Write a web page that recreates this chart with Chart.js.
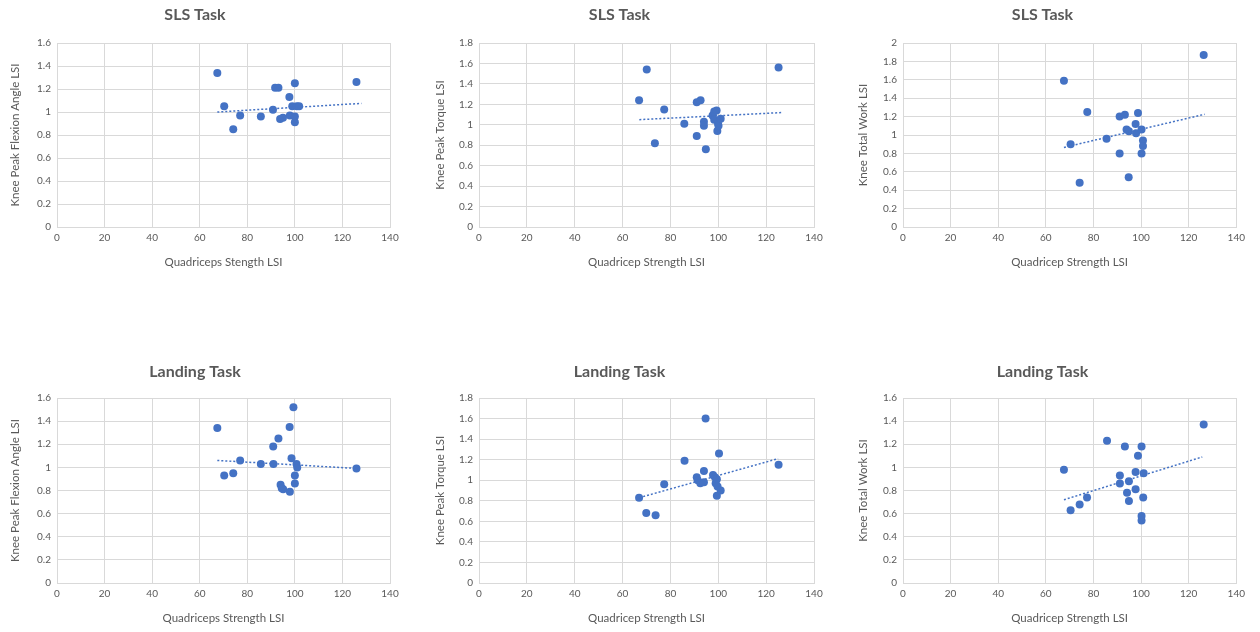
<!DOCTYPE html>
<html>
<head>
<meta charset="utf-8">
<script src="https://cdn.jsdelivr.net/npm/chart.js@4/dist/chart.umd.min.js"></script>
<style>
    body { margin: 0; background: #fff; width: 1260px; height: 632px; overflow: hidden; position: relative; }
    canvas { position: absolute; }
</style>
</head>
<body>
<canvas id="c1" width="406" height="275" style="left:0;top:0"></canvas>
<canvas id="c2" width="404" height="275" style="left:425px;top:0"></canvas>
<canvas id="c3" width="402" height="275" style="left:848px;top:0"></canvas>
<canvas id="c4" width="406" height="276" style="left:0;top:355px"></canvas>
<canvas id="c5" width="404" height="276" style="left:425px;top:355px"></canvas>
<canvas id="c6" width="402" height="276" style="left:848px;top:355px"></canvas>
<script>
// ---------------------------------------------------------------------------
// Data
// ---------------------------------------------------------------------------

const xTicks = [0, 20, 40, 60, 80, 100, 120, 140];

// SLS task - knee peak flexion angle
const slsAngleX = [67.4, 70.3, 74.1, 77.0, 85.7, 90.8, 91.7, 93.1, 93.8, 95.0, 97.7, 97.9, 98.9, 100.0, 100.0, 100.0, 100.8, 101.8, 125.9];
const slsAngleY = [1.34, 1.05, 0.85, 0.97, 0.96, 1.02, 1.21, 1.21, 0.94, 0.95, 1.13, 0.97, 1.05, 1.25, 0.96, 0.91, 1.05, 1.05, 1.26];
const slsAngleTrendX = [67.4, 128];
const slsAngleTrendY = [1.0, 1.075];

// SLS task - knee peak torque
const slsTorqueX = [66.9, 70.1, 73.5, 77.4, 85.8, 91.0, 91.0, 92.6, 94.0, 94.0, 94.8, 97.6, 98.3, 98.3, 99.3, 99.6, 99.9, 100.1, 101.0, 125.2];
const slsTorqueY = [1.24, 1.54, 0.82, 1.15, 1.01, 1.22, 0.89, 1.24, 1.03, 0.99, 0.76, 1.09, 1.13, 1.05, 1.14, 0.94, 1.01, 0.99, 1.06, 1.56];
const slsTorqueTrendX = [67, 127];
const slsTorqueTrendY = [1.05, 1.12];

// SLS task - knee total work
const slsWorkX = [67.6, 70.4, 74.2, 77.4, 85.5, 91.0, 91.0, 93.2, 93.9, 94.8, 94.9, 97.7, 97.9, 98.7, 100.2, 100.2, 100.8, 100.8, 126.3];
const slsWorkY = [1.59, 0.90, 0.48, 1.25, 0.96, 1.20, 0.80, 1.22, 1.06, 0.54, 1.04, 1.12, 1.02, 1.24, 1.06, 0.80, 0.94, 0.88, 1.87];
const slsWorkTrendX = [67.6, 126.7];
const slsWorkTrendY = [0.865, 1.225];

// Landing task - knee peak flexion angle
const landAngleX = [67.4, 70.3, 74.1, 77.0, 85.7, 90.9, 91.0, 93.1, 94.0, 94.5, 95.1, 97.8, 97.9, 98.6, 99.4, 100.0, 100.0, 100.7, 101.0, 125.9];
const landAngleY = [1.34, 0.93, 0.95, 1.06, 1.03, 1.18, 1.03, 1.25, 0.85, 0.82, 0.81, 1.35, 0.79, 1.08, 1.52, 0.93, 0.86, 1.03, 1.00, 0.99];
const landAngleTrendX = [67.4, 126.7];
const landAngleTrendY = [1.06, 0.99];

// Landing task - knee peak torque
const landTorqueX = [66.9, 69.9, 73.8, 77.4, 85.9, 91.0, 91.4, 92.5, 94.0, 94.0, 94.7, 97.8, 98.6, 98.9, 99.4, 99.4, 99.7, 100.3, 101.0, 125.2];
const landTorqueY = [0.83, 0.68, 0.66, 0.96, 1.19, 1.03, 1.00, 0.97, 0.98, 1.09, 1.60, 1.05, 1.03, 0.97, 1.01, 0.85, 0.94, 1.26, 0.90, 1.15];
const landTorqueTrendX = [67, 125];
const landTorqueTrendY = [0.83, 1.21];

// Landing task - knee total work
const landWorkX = [67.6, 70.4, 74.2, 77.3, 85.7, 91.1, 91.1, 93.2, 94.1, 94.9, 94.9, 97.7, 97.7, 98.7, 100.2, 100.2, 100.2, 100.9, 101.1, 126.3];
const landWorkY = [0.98, 0.63, 0.68, 0.74, 1.23, 0.93, 0.86, 1.18, 0.78, 0.88, 0.71, 0.96, 0.81, 1.10, 1.18, 0.58, 0.54, 0.74, 0.95, 1.37];
const landWorkTrendX = [67.6, 125.7];
const landWorkTrendY = [0.72, 1.09];

// ---------------------------------------------------------------------------
// Chart helpers
// ---------------------------------------------------------------------------

const BLUE = "#4472C4";
const GRID = "#d9d9d9";
const TEXT = "#595959";
const FONT = "Lato, 'Open Sans', sans-serif";

function toPoints(xs, ys) {
    return xs.map((x, i) => ({ x: x, y: ys[i] }));
}

function makePanel(id, p) {
    const ctx = document.getElementById(id).getContext("2d");
    return new Chart(ctx, {
        type: "scatter",
        data: {
            datasets: [
                {
                    type: "line",
                    data: toPoints(p.trendX, p.trendY),
                    borderColor: BLUE,
                    borderWidth: 1.5,
                    borderDash: [2, 2],
                    pointRadius: 0,
                    fill: false,
                },
                {
                    data: toPoints(p.x, p.y),
                    backgroundColor: BLUE,
                    borderWidth: 0,
                    pointRadius: 4,
                    pointHoverRadius: 4,
                },
            ],
        },
        options: {
            responsive: false,
            animation: false,
            events: [],
            layout: { padding: { left: 0, right: p.padR, top: 0, bottom: 0 } },
            plugins: {
                legend: { display: false },
                tooltip: { enabled: false },
                title: {
                    display: true,
                    text: p.title,
                    color: TEXT,
                    font: { family: FONT, size: 16, weight: "bold", lineHeight: 1.125 },
                    padding: p.titlePad,
                },
            },
            scales: {
                x: {
                    type: "linear",
                    min: 0,
                    max: 140,
                    afterBuildTicks: (axis) => { axis.ticks = xTicks.map((v) => ({ value: v })); },
                    afterFit: (axis) => { axis.height = 48; },
                    grid: { color: GRID, drawTicks: false },
                    border: { color: GRID },
                    ticks: { color: TEXT, padding: 5, font: { family: FONT, size: 10 } },
                    title: {
                        display: true,
                        text: p.xTitle,
                        color: TEXT,
                        padding: { top: 0, bottom: 6 },
                        font: { family: FONT, size: 11.5 },
                    },
                },
                y: {
                    min: 0,
                    max: p.yMax,
                    ticks: {
                        stepSize: 0.2,
                        color: TEXT,
                        padding: 6,
                        font: { family: FONT, size: 10 },
                        callback: (v) => String(Number(v.toFixed(1))),
                    },
                    afterFit: (axis) => { axis.width = p.yAxisW; },
                    grid: { color: GRID, drawTicks: false },
                    border: { color: GRID },
                    title: {
                        display: true,
                        text: p.yTitle,
                        color: TEXT,
                        padding: { top: p.yTitlePad, bottom: 0 },
                        font: { family: FONT, size: 11.5 },
                    },
                },
            },
        },
    });
}

// ---------------------------------------------------------------------------
// Panels
// ---------------------------------------------------------------------------

const topPad = { top: 6, bottom: 19 };
const bottomPad = { top: 8, bottom: 17 };

makePanel("c1", {
    title: "SLS Task", titlePad: topPad, x: slsAngleX, y: slsAngleY,
    trendX: slsAngleTrendX, trendY: slsAngleTrendY, yMax: 1.6,
    xTitle: "Quadriceps Stength LSI", yTitle: "Knee Peak Flexion Angle LSI",
    yAxisW: 57, padR: 16, yTitlePad: 8,
});
makePanel("c2", {
    title: "SLS Task", titlePad: topPad, x: slsTorqueX, y: slsTorqueY,
    trendX: slsTorqueTrendX, trendY: slsTorqueTrendY, yMax: 1.8,
    xTitle: "Quadricep Strength LSI", yTitle: "Knee Peak Torque LSI",
    yAxisW: 54, padR: 15, yTitlePad: 8,
});
makePanel("c3", {
    title: "SLS Task", titlePad: topPad, x: slsWorkX, y: slsWorkY,
    trendX: slsWorkTrendX, trendY: slsWorkTrendY, yMax: 2,
    xTitle: "Quadricep Strength LSI", yTitle: "Knee Total Work LSI",
    yAxisW: 55, padR: 13, yTitlePad: 8,
});
makePanel("c4", {
    title: "Landing Task", titlePad: bottomPad, x: landAngleX, y: landAngleY,
    trendX: landAngleTrendX, trendY: landAngleTrendY, yMax: 1.6,
    xTitle: "Quadriceps Strength LSI", yTitle: "Knee Peak Flexion Angle LSI",
    yAxisW: 57, padR: 16, yTitlePad: 8,
});
makePanel("c5", {
    title: "Landing Task", titlePad: bottomPad, x: landTorqueX, y: landTorqueY,
    trendX: landTorqueTrendX, trendY: landTorqueTrendY, yMax: 1.8,
    xTitle: "Quadricep Strength LSI", yTitle: "Knee Peak Torque LSI",
    yAxisW: 54, padR: 15, yTitlePad: 8,
});
makePanel("c6", {
    title: "Landing Task", titlePad: bottomPad, x: landWorkX, y: landWorkY,
    trendX: landWorkTrendX, trendY: landWorkTrendY, yMax: 1.6,
    xTitle: "Quadricep Strength LSI", yTitle: "Knee Total Work LSI",
    yAxisW: 55, padR: 13, yTitlePad: 8,
});
</script>
</body>
</html>
